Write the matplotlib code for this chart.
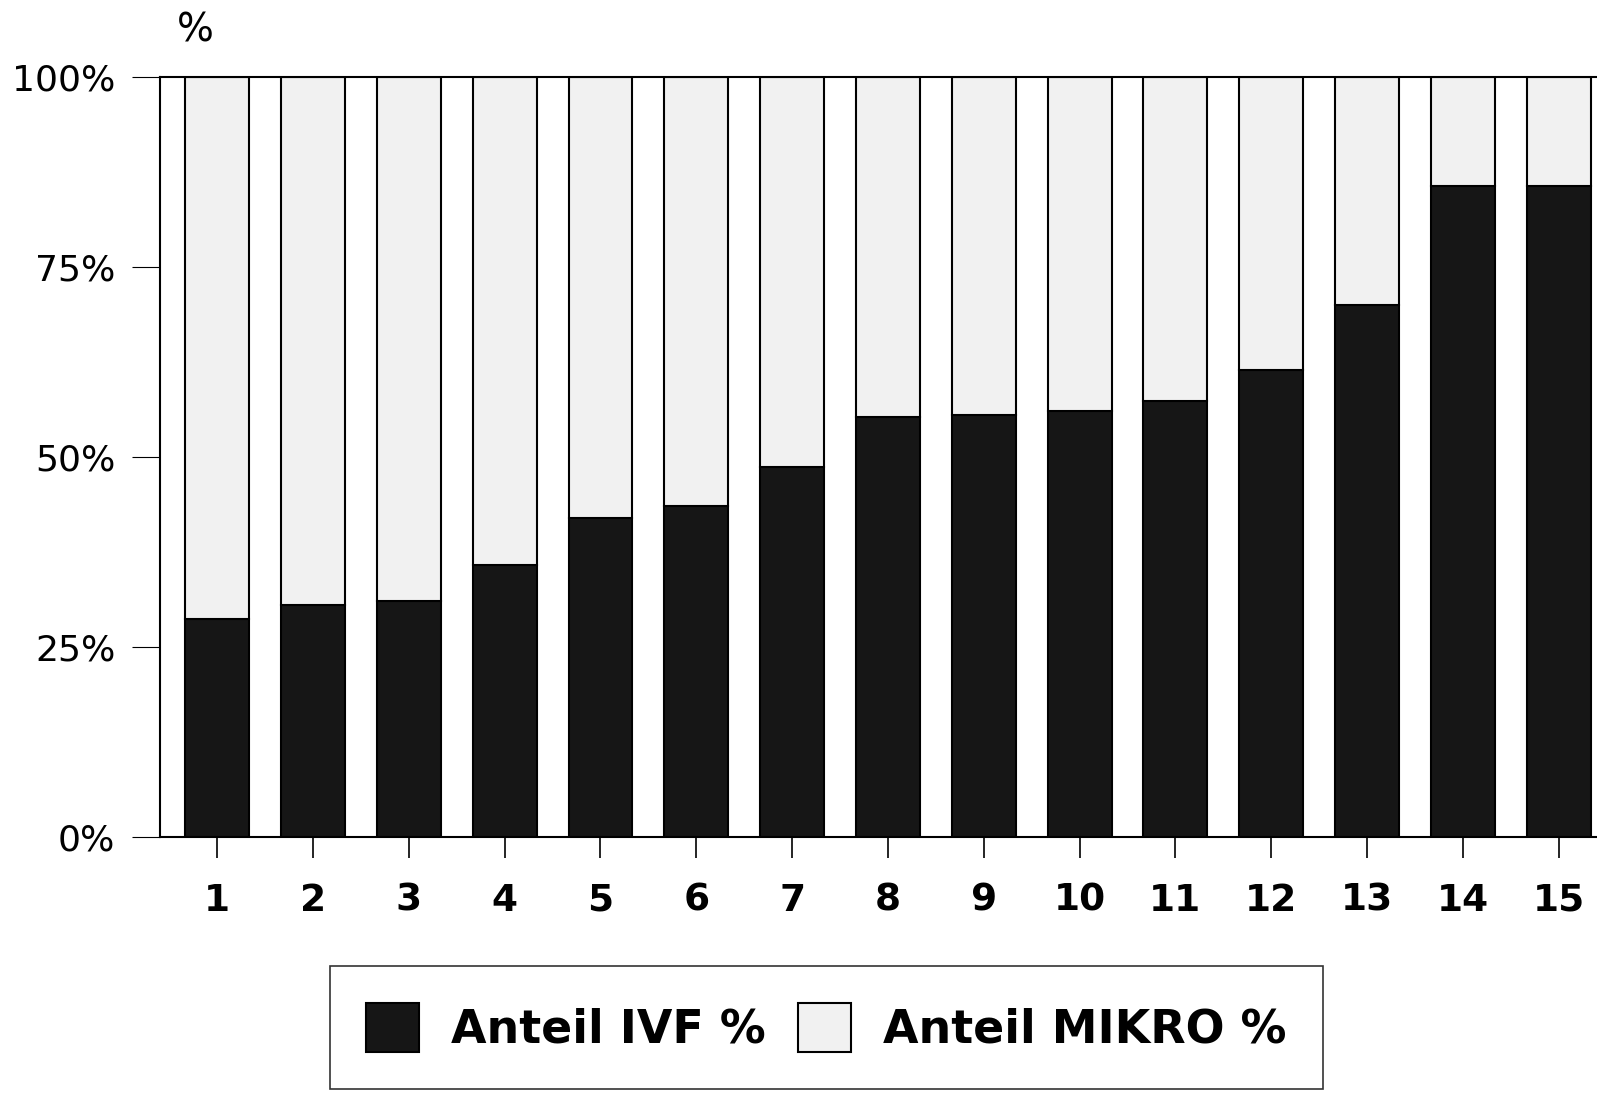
import matplotlib.pyplot as plt
from matplotlib.ticker import FuncFormatter

# Anteil IVF in % je Gruppe (Rest = Anteil MIKRO)
gruppen = [str(i) for i in range(1, 16)]
anteil_ivf = [28.7, 30.5, 31.0, 35.8, 42.0, 43.5, 48.7, 55.2, 55.5, 56.0, 57.4, 61.4, 70.0, 85.6, 85.6]
anteil_mikro = [100 - v for v in anteil_ivf]
y_ticks = [0, 25, 50, 75, 100]

plt.rcParams['font.family'] = ['DejaVu Sans']

fig = plt.figure(figsize=(15.97, 10.97), dpi=100)
ax = fig.add_axes([0.100, 0.237, 0.900, 0.693])

x = list(range(1, len(gruppen) + 1))
ax.bar(x, anteil_ivf, width=0.667, color='#161616', edgecolor='black', linewidth=1.5,
       label='Anteil IVF %')
ax.bar(x, anteil_mikro, width=0.667, bottom=anteil_ivf, color='#f1f1f1', edgecolor='black',
       linewidth=1.5, label='Anteil MIKRO %')

ax.set_xlim(0.4, 15.4)
ax.set_ylim(0, 100)
ax.set_xticks(x)
ax.set_xticklabels(gruppen, fontsize=27, fontweight='bold')
ax.set_yticks(y_ticks)
ax.yaxis.set_major_formatter(FuncFormatter(lambda v, p: f'{v:.0f}%'))
ax.tick_params(axis='y', labelsize=26, length=20, width=0.8, pad=12)
ax.tick_params(axis='x', length=15, width=1.2, pad=18)

for side in ['left', 'top', 'bottom']:
    ax.spines[side].set_linewidth(1.5)
ax.spines['right'].set_visible(False)

fig.text(195 / 1597, 1 - 30 / 1097, '%', fontsize=28, ha='center', va='center')

leg = fig.legend(loc='center', bbox_to_anchor=(0.5175, 0.063), ncol=2, frameon=True,
                 fancybox=False, edgecolor='black', prop={'size': 33, 'weight': 'bold'},
                 handlelength=1.15, handleheight=1.25, handletextpad=0.7, columnspacing=0.7,
                 borderpad=0.8, borderaxespad=0)
leg.get_frame().set_linewidth(1.2)

fig.savefig('out.png', dpi=100)
